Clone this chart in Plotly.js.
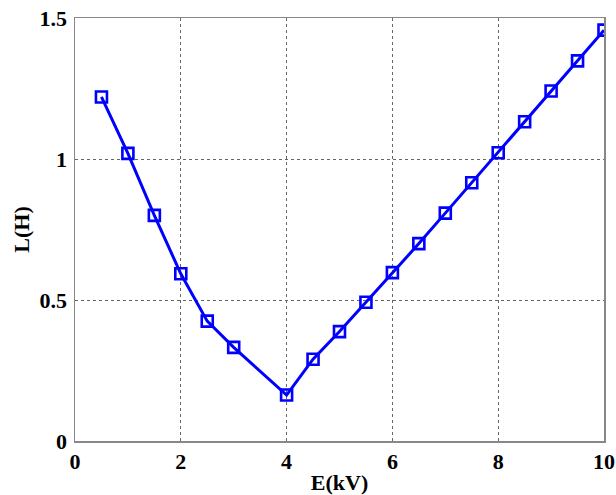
<!DOCTYPE html>
<html>
<head>
<meta charset="utf-8">
<script src="https://cdn.plot.ly/plotly-3.0.1.min.js"></script>
<style>html,body{margin:0;padding:0;background:#fff;}#chart{width:616px;height:495px;}</style>
</head>
<body>
<div id="chart"></div>
<script>
var E_kV = [0.5, 1, 1.5, 2, 2.5, 3, 4, 4.5, 5, 5.5, 6, 6.5, 7, 7.5, 8, 8.5, 9, 9.5, 10];
var L_H = [1.22, 1.02, 0.80, 0.593, 0.425, 0.332, 0.163, 0.29, 0.388, 0.492, 0.597, 0.70, 0.808, 0.916, 1.022, 1.132, 1.241, 1.348, 1.457];
var xTicks = [0, 2, 4, 6, 8, 10];
var yTicks = [0, 0.5, 1, 1.5];
var yTickText = ['0', '0.5', '1', '1.5'];

var fam = 'Liberation Serif, Times New Roman, serif';
var bold = function (s) { return '<b>' + s + '</b>'; };

var trace = {
  x: E_kV, y: L_H, type: 'scatter', mode: 'lines+markers',
  line: {color: '#0000ff', width: 3},
  marker: {symbol: 'square-open', size: 11, color: '#0000ff', line: {width: 2.6, color: '#0000ff'}},
  hoverinfo: 'none'
};

var layout = {
  width: 616, height: 495,
  margin: {l: 75, r: 12, t: 18, b: 54},
  paper_bgcolor: '#fff', plot_bgcolor: '#fff',
  showlegend: false,
  font: {family: fam, size: 22, color: '#000'},
  xaxis: {
    range: [0, 10], tickvals: xTicks, ticktext: xTicks.map(function (v) { return bold(String(v)); }),
    showgrid: true, gridcolor: '#666', griddash: 'dot', gridwidth: 1,
    showline: true, linecolor: '#888', linewidth: 1.5, mirror: true,
    zeroline: false, ticks: '', tickfont: {family: fam, size: 22, color: '#000'},
    ticklabelstandoff: 0,
    title: {text: bold('E(kV)'), font: {family: fam, size: 22, color: '#000'}, standoff: 2}
  },
  yaxis: {
    range: [0, 1.5], tickvals: yTicks, ticktext: yTickText.map(bold),
    showgrid: true, gridcolor: '#666', griddash: 'dot', gridwidth: 1,
    showline: true, linecolor: '#888', linewidth: 1.5, mirror: true,
    zeroline: false, ticks: '', tickfont: {family: fam, size: 22, color: '#000'},
    ticklabelstandoff: 2,
    title: {text: bold('L(H)'), font: {family: fam, size: 22, color: '#000'}, standoff: 4}
  }
};

Plotly.newPlot('chart', [trace], layout, {displayModeBar: false, staticPlot: true});
</script>
</body>
</html>
